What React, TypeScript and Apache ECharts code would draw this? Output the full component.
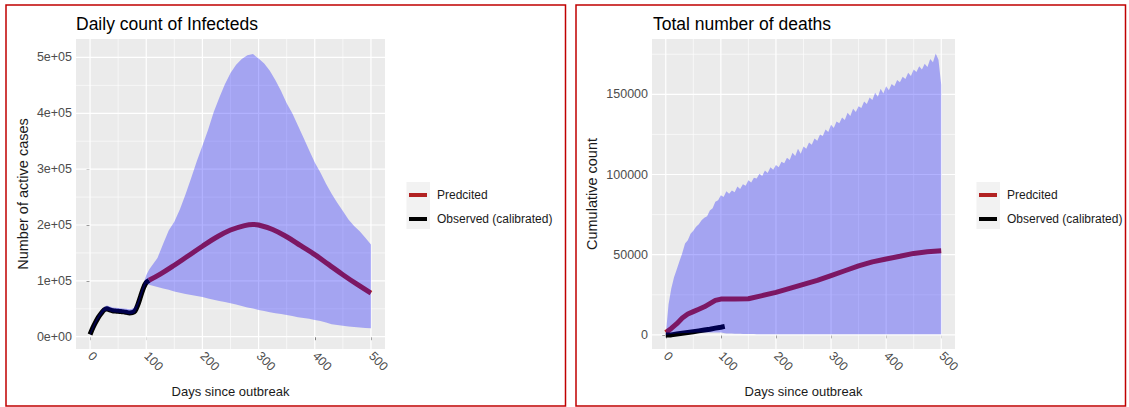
import React, { useEffect, useRef } from "react";
import * as echarts from "echarts";

const FONT = "'Liberation Sans', Arial, Helvetica, sans-serif";

// ---------- Left panel: daily count of infecteds ----------
const infXTicks = [0, 100, 200, 300, 400, 500];
const infXMinor = [50, 150, 250, 350, 450];
const infYTicks = [0, 100000, 200000, 300000, 400000, 500000];
const infYMinor = [50000, 150000, 250000, 350000, 450000];
const infYLabels = ["0e+00", "1e+05", "2e+05", "3e+05", "4e+05", "5e+05"];

const infBandDays = [0, 5, 10, 15, 20, 25, 30, 35, 40, 45, 50, 55, 60, 65, 70, 75, 80, 85, 90, 95, 100, 105, 110, 120, 130, 140, 150, 160, 170, 180, 190, 200, 210, 220, 230, 240, 250, 260, 270, 280, 290, 300, 310, 320, 330, 340, 350, 360, 370, 380, 390, 400, 410, 420, 430, 440, 450, 460, 470, 480, 490, 500];
const infUpper = [7000, 19000, 30000, 39000, 47000, 53000, 56000, 54000, 52500, 52000, 51500, 51000, 50500, 50000, 49000, 50000, 53000, 63000, 79000, 94000, 110000, 120000, 127000, 141000, 166000, 190000, 206000, 228000, 255000, 284000, 314000, 342000, 370000, 402000, 428000, 452000, 472000, 487000, 497000, 504000, 506000, 498000, 489000, 476000, 459000, 440000, 418000, 400000, 378000, 356000, 334000, 312000, 294000, 274000, 256000, 240000, 225000, 210000, 198000, 189000, 177000, 165000];
const infLower = [2000, 13000, 23000, 32000, 39000, 45000, 47000, 45500, 44000, 43500, 43000, 42500, 42000, 41000, 40000, 40500, 43000, 54000, 69000, 84000, 95000, 93000, 91500, 89000, 86500, 84000, 81000, 78500, 76500, 74500, 73000, 71000, 68500, 66000, 64000, 62000, 60000, 57500, 55000, 52500, 50500, 48000, 46000, 44000, 42000, 40500, 39000, 37000, 35000, 33500, 32000, 30000, 28000, 25500, 22500, 21000, 19500, 18500, 17500, 16500, 15500, 15000];

const infObsDays = [0, 5, 10, 15, 20, 25, 30, 35, 40, 45, 50, 55, 60, 65, 70, 75, 80, 85, 90, 95, 100, 105];
const infObsValues = [4000, 16000, 26000, 35000, 42000, 48000, 50000, 48000, 46500, 46000, 45500, 45000, 44500, 43500, 42500, 43000, 46000, 57000, 72000, 87000, 97000, 101000];

const infPredDays = [105, 125, 150, 175, 200, 225, 250, 275, 290, 300, 325, 350, 375, 400, 425, 450, 475, 500];
const infPredValues = [101000, 112000, 128000, 145000, 162000, 178000, 191000, 199000, 201000, 200000, 192000, 179000, 163000, 147000, 129000, 111000, 94000, 78000];

// ---------- Right panel: total number of deaths ----------
const dXTicks = [0, 100, 200, 300, 400, 500];
const dXMinor = [50, 150, 250, 350, 450];
const dYTicks = [0, 50000, 100000, 150000];
const dYMinor = [25000, 75000, 125000, 175000];
const dYLabels = ["0", "50000", "100000", "150000"];

const dBandDays = [0, 5, 10, 15, 20, 25, 30, 35, 40, 45, 50, 55, 60, 65, 70, 75, 80, 85, 90, 95, 100, 105, 110, 115, 120, 125, 130, 135, 140, 145, 150, 155, 160, 165, 170, 175, 180, 185, 190, 195, 200, 205, 210, 215, 220, 225, 230, 235, 240, 245, 250, 255, 260, 265, 270, 275, 280, 285, 290, 295, 300, 305, 310, 315, 320, 325, 330, 335, 340, 345, 350, 355, 360, 365, 370, 375, 380, 385, 390, 395, 400, 405, 410, 415, 420, 425, 430, 435, 440, 445, 450, 455, 460, 465, 470, 475, 480, 485, 490, 495, 500];
const dUpper = [0, 19000, 29000, 36000, 41000, 46000, 51000, 57000, 59000, 63000, 65000, 67500, 69000, 71500, 73000, 74000, 77500, 79000, 83000, 84000, 87000, 86000, 89500, 88000, 90000, 89000, 92500, 91000, 94000, 93000, 96500, 95000, 98000, 97500, 100500, 99000, 102500, 101000, 104500, 103000, 106000, 104500, 108000, 107000, 110500, 109000, 113500, 111500, 116000, 113000, 117500, 116000, 120000, 118500, 122500, 121000, 125000, 124000, 128000, 126500, 131000, 129000, 133000, 132000, 135500, 134000, 138500, 136500, 141000, 139000, 142500, 141500, 145500, 144000, 148000, 146500, 151000, 148500, 153500, 150500, 155000, 152500, 156500, 155000, 159000, 157500, 161000, 159500, 163500, 161500, 165500, 164000, 167500, 165500, 169000, 167000, 172000, 170000, 175500, 171500, 156000];
const dLowerDays = [0, 20, 60, 100, 110, 150, 200, 500];
const dLowerValues = [0, 1000, 1500, 1500, 900, 500, 400, 400];

const dObsDays = [0, 10, 20, 30, 40, 50, 60, 70, 80, 90, 100, 107];
const dObsValues = [0, 0, 500, 1000, 1500, 2000, 2500, 3000, 3500, 4200, 4800, 5300];

const dPredDays = [0, 10, 20, 30, 40, 50, 60, 70, 80, 90, 100, 125, 150, 175, 200, 225, 250, 275, 300, 325, 350, 375, 400, 425, 450, 475, 500];
const dPredValues = [1500, 4000, 7000, 10500, 13000, 14500, 16000, 17500, 19500, 21500, 22300, 22300, 22500, 24500, 26500, 29000, 31500, 34000, 37000, 40000, 43000, 45500, 47300, 49000, 50800, 51800, 52500];

const PRED = "Predcited";
const OBS = "Observed (calibrated)";
const PRED_COLOR = "#B22222";
const OBS_COLOR = "#000000";
const BAND_COLOR = "rgba(0,0,255,0.3)";

function interp(xs: number[], ys: number[], x: number) {
  for (let i = 0; i < xs.length - 1; i++) {
    if (x >= xs[i] && x <= xs[i + 1]) {
      const t = (x - xs[i]) / (xs[i + 1] - xs[i]);
      return ys[i] + t * (ys[i + 1] - ys[i]);
    }
  }
  return ys[ys.length - 1];
}

function gridData(xt: number[], xm: number[], yt: number[], ym: number[]) {
  return [
    ...xt.map((v) => [v, 0, 0]),
    ...xm.map((v) => [v, 0, 1]),
    ...yt.map((v) => [0, v, 2]),
    ...ym.map((v) => [0, v, 3]),
  ];
}

function gridRender(params: any, api: any) {
  const cs = params.coordSys;
  const kind = api.value(2);
  const p = api.coord([api.value(0), api.value(1)]);
  const w = kind % 2 === 0 ? 1.2 : 0.6;
  if (kind < 2) {
    return { type: "line", shape: { x1: p[0], y1: cs.y, x2: p[0], y2: cs.y + cs.height }, style: { stroke: "#FFFFFF", lineWidth: w } };
  }
  return { type: "line", shape: { x1: cs.x, y1: p[1], x2: cs.x + cs.width, y2: p[1] }, style: { stroke: "#FFFFFF", lineWidth: w } };
}

function bandRender(days: number[], upper: number[], lowerFn: (d: number) => number) {
  return (params: any, api: any) => {
    const top = days.map((d, i) => api.coord([d, upper[i]]));
    const bot = days.map((d) => api.coord([d, lowerFn(d)])).reverse();
    return { type: "polygon", shape: { points: top.concat(bot) }, style: { fill: BAND_COLOR } };
  };
}

function xAxisCfg(gridIndex: number, ticks: number[]) {
  return {
    gridIndex,
    type: "value",
    min: -25,
    max: 525,
    axisLine: { show: false },
    axisTick: { show: true, customValues: ticks, length: 3.5, lineStyle: { color: "#333333", width: 1 } },
    axisLabel: { customValues: ticks, rotate: -45, color: "#4D4D4D", fontSize: 12.5, fontFamily: FONT, margin: 5 },
    splitLine: { show: false },
    name: "Days since outbreak",
    nameLocation: "middle",
    nameGap: 36,
    nameTextStyle: { color: "#1A1A1A", fontSize: 13, fontFamily: FONT },
  };
}

function yAxisCfg(gridIndex: number, min: number, max: number, ticks: number[], labels: string[], name: string, nameGap: number) {
  return {
    gridIndex,
    type: "value",
    min,
    max,
    axisLine: { show: false },
    axisTick: { show: true, customValues: ticks, length: 3.5, lineStyle: { color: "#333333", width: 1 } },
    axisLabel: {
      customValues: ticks,
      color: "#4D4D4D",
      fontSize: 12.5,
      fontFamily: FONT,
      margin: 4,
      formatter: (v: number) => {
        const i = ticks.indexOf(v);
        return i >= 0 ? labels[i] : "";
      },
    },
    splitLine: { show: false },
    name,
    nameLocation: "middle",
    nameRotate: 90,
    nameGap,
    nameTextStyle: { color: "#1A1A1A", fontSize: 14.5, fontFamily: FONT },
  };
}

function legendCfg(left: number) {
  return {
    data: [PRED, OBS],
    orient: "vertical",
    left,
    top: 189,
    padding: 0,
    icon: "rect",
    itemWidth: 18,
    itemHeight: 4,
    itemGap: 12,
    selectedMode: false,
    textStyle: { fontSize: 12, color: "#1A1A1A", fontFamily: FONT, padding: [0, 0, 0, 5] },
  };
}

function lineSeries(name: string, color: string, xi: number, days: number[], vals: number[], smooth: number | boolean) {
  return {
    name,
    type: "line",
    xAxisIndex: xi,
    yAxisIndex: xi,
    data: days.map((d, i) => [d, vals[i]]),
    showSymbol: false,
    smooth,
    z: 2,
    color,
    itemStyle: { color },
    lineStyle: { color, width: 5 },
    silent: true,
  };
}

export default function App() {
  const ref = useRef<HTMLDivElement>(null);
  useEffect(() => {
    if (!ref.current) return;
    const chart = echarts.init(ref.current, null, { renderer: "svg" });
    const option: any = {
      animation: false,
      backgroundColor: "#FFFFFF",
      title: [
        { text: "Daily count of Infecteds", left: 76, top: 15, padding: 0, textStyle: { fontSize: 17.5, fontWeight: "normal", color: "#000000", fontFamily: FONT } },
        { text: "Total number of deaths", left: 653, top: 15, padding: 0, textStyle: { fontSize: 17.5, fontWeight: "normal", color: "#000000", fontFamily: FONT } },
      ],
      grid: [
        { left: 76, top: 39, width: 309, height: 310, show: true, backgroundColor: "#EBEBEB", borderWidth: 0 },
        { left: 652, top: 39, width: 303, height: 310, show: true, backgroundColor: "#EBEBEB", borderWidth: 0 },
      ],
      xAxis: [xAxisCfg(0, infXTicks), xAxisCfg(1, dXTicks)],
      yAxis: [
        yAxisCfg(0, -22000, 533000, infYTicks, infYLabels, "Number of active cases", 46),
        yAxisCfg(1, -8800, 184500, dYTicks, dYLabels, "Cumulative count", 53),
      ],
      legend: [legendCfg(409), legendCfg(979)],
      graphic: {
        elements: [
          { type: "rect", z: 0, shape: { x: 6, y: 5, width: 559.5, height: 401 }, style: { fill: "none", stroke: "#C00000", lineWidth: 1.5 } },
          { type: "rect", z: 0, shape: { x: 576, y: 5, width: 549.5, height: 401 }, style: { fill: "none", stroke: "#C00000", lineWidth: 1.5 } },
          { type: "rect", z: 0, shape: { x: 406.5, y: 182, width: 23.5, height: 47 }, style: { fill: "#F2F2F2" } },
          { type: "rect", z: 0, shape: { x: 976.5, y: 182, width: 23.5, height: 47 }, style: { fill: "#F2F2F2" } },
        ],
      },
      series: [
        {
          type: "custom", xAxisIndex: 0, yAxisIndex: 0, z: 1, silent: true,
          dimensions: ["x", "y", "k"], encode: { x: 0, y: 1 },
          data: gridData(infXTicks, infXMinor, infYTicks, infYMinor), renderItem: gridRender,
        },
        {
          type: "custom", xAxisIndex: 1, yAxisIndex: 1, z: 1, silent: true,
          dimensions: ["x", "y", "k"], encode: { x: 0, y: 1 },
          data: gridData(dXTicks, dXMinor, dYTicks, dYMinor), renderItem: gridRender,
        },
        lineSeries(PRED, PRED_COLOR, 0, infPredDays, infPredValues, 0.4),
        lineSeries(OBS, OBS_COLOR, 0, infObsDays, infObsValues, 0.3),
        lineSeries(PRED, PRED_COLOR, 1, dPredDays, dPredValues, false),
        lineSeries(OBS, OBS_COLOR, 1, dObsDays, dObsValues, false),
        {
          type: "custom", xAxisIndex: 0, yAxisIndex: 0, z: 3, silent: true,
          data: [[0, 0]],
          renderItem: bandRender(infBandDays, infUpper, (d: number) => infLower[infBandDays.indexOf(d)]),
        },
        {
          type: "custom", xAxisIndex: 1, yAxisIndex: 1, z: 3, silent: true,
          data: [[0, 0]],
          renderItem: bandRender(dBandDays, dUpper, (d: number) => interp(dLowerDays, dLowerValues, d)),
        },
      ],
    };
    chart.setOption(option);
    return () => chart.dispose();
  }, []);
  return <div ref={ref} style={{ position: "absolute", left: 0, top: 0, width: 1129, height: 407 }} />;
}
